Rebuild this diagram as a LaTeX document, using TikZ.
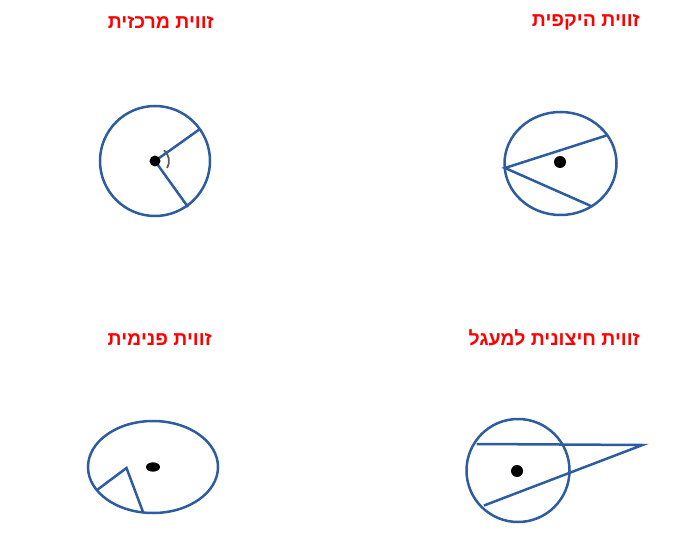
\documentclass[tikz,border=0pt]{standalone}
\usepackage{fontspec}
\TeXXeTstate=1
\newfontfamily\hebfont[Script=Hebrew]{Liberation Sans}
\definecolor{geoblue}{RGB}{46,92,160}
\definecolor{titlered}{RGB}{255,0,0}
\tikzset{
  geo/.style={draw=geoblue, line width=2.5pt},
  centerdot/.style={fill=black},
  title/.style={text=titlered, font=\hebfont\bfseries\fontsize{19.5}{22}\selectfont, anchor=east, inner sep=0pt},
  anglemark/.style={draw=black!65, line width=1.8pt}
}
\begin{document}
\begin{tikzpicture}[x=1pt,y=-1pt]
\useasboundingbox (0,0) rectangle (682,534);
% titles
\node[title] (t1) at (214,22) {\beginR זווית מרכזית\endR};
\node[title] (t2) at (640,22) {\beginR זווית היקפית\endR};
\node[title] (t3) at (212,339) {\beginR זווית פנימית\endR};
\node[title] (t4) at (640,338) {\beginR זווית חיצונית למעגל\endR};
% central angle
\coordinate (c1) at (155,161);
\coordinate (c1a) at (200,129);
\coordinate (c1b) at (188,207);
\draw[geo] (c1) circle[radius=55];
\draw[geo] (c1a) -- (c1) -- (c1b);
\draw[anglemark] (c1) ++(30:14) arc[start angle=30, end angle=-50, radius=14];
\fill[centerdot] (c1) circle[radius=5.5];
% inscribed angle
\coordinate (c2) at (560.5,163.5);
\coordinate (v2) at (505,168);
\coordinate (c2a) at (608,135);
\coordinate (c2b) at (591,206);
\draw[geo] (c2) ellipse[x radius=56, y radius=51.5];
\draw[geo] (c2a) -- (v2) -- (c2b);
\fill[centerdot] (560,162) circle[radius=6];
% interior angle
\coordinate (c3) at (153,467);
\coordinate (v3) at (126.5,468);
\coordinate (c3a) at (97,490);
\coordinate (c3b) at (143,512);
\draw[geo] (c3) ellipse[x radius=65, y radius=46];
\draw[geo] (c3a) -- (v3) -- (c3b);
\fill[centerdot] (c3) ellipse[x radius=7, y radius=4.7];
% exterior angle
\coordinate (c4) at (518,470.5);
\coordinate (v4) at (642.5,445);
\coordinate (c4a) at (476.5,444);
\coordinate (c4b) at (484,505.5);
\draw[geo] (c4) circle[radius=51.5];
\draw[geo] (c4a) -- (v4) -- (c4b);
\fill[centerdot] (517,471) circle[radius=6];
\end{tikzpicture}
\end{document}
